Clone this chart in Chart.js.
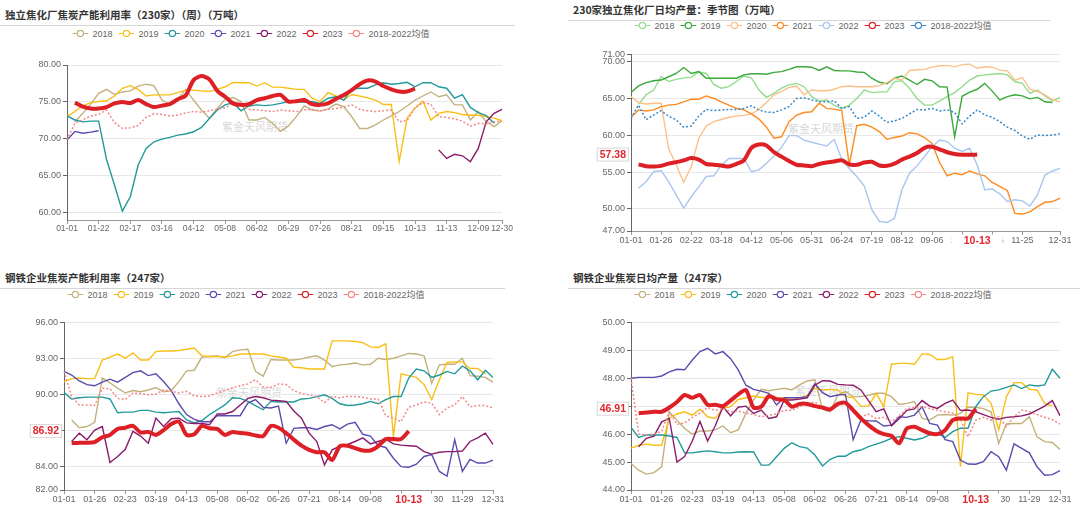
<!DOCTYPE html>
<html>
<head>
<meta charset="utf-8">
<title>焦炭季节图</title>
<script src="https://cdn.jsdelivr.net/npm/chart.js@4.4.1/dist/chart.umd.min.js"></script>
<style>
  body{margin:0;width:1080px;height:509px;overflow:hidden;background:#fff;position:relative;font-family:"Liberation Sans","Noto Sans CJK SC",sans-serif}
  .title{position:absolute;font-family:"Noto Sans CJK SC",sans-serif;font-weight:bold;font-size:10.5px;line-height:14px;color:#333;white-space:nowrap}
  .rule{position:absolute;height:1px;background:#d6d6d6}
  .legend{position:absolute;display:flex;align-items:center;transform:translate(-50%,-50%);font-size:9px;color:#666;white-space:nowrap}
  .legend span{display:flex;align-items:center;margin:0 3px}
  .legend svg{margin-right:4px}
  .wm{position:absolute;transform:translate(-50%,-50%);font-family:"Noto Sans CJK SC",sans-serif;font-size:11px;color:rgba(150,150,150,.4);white-space:nowrap}
  canvas{position:absolute}
</style>
</head>
<body>
<script>
const FONT = '"Liberation Sans", "Noto Sans CJK SC", sans-serif';
const names = ['2018','2019','2020','2021','2022','2023','2018-2022均值'];
const colorsA = ['#c3b17c','#f9bf16','#22999a','#5a4cae','#8b1b6c','#dd1f26','#f38787'];
const colorsB = ['#92dc8e','#3aa83a','#fdc08a','#ff8a1e','#a9c6ee','#dd1f26','#3a88c8'];
const markerDate = '10-13';

// x tick labels (category index -> label)
const tickIdx1 = [0,4,8,12,16,20,24,28,32,36,40,44,48,52,55];
const tickText1 = ['01-01','01-22','02-17','03-16','04-12','05-08','06-02','06-29','07-26','08-21','09-15','10-13','11-13','12-09','12-30'];
const tickIdx2 = [0,4,8,12,16,20,24,28,32,36,40,44,48,52,57];
const tickText2 = ['01-01','01-26','02-22','03-18','04-12','05-06','05-31','06-24','07-19','08-12','09-06','10-01','10-25','11-25','12-31'];
const tickIdx34 = [0,4,8,12,16,20,24,28,32,36,40,44,48,52,56];
const tickText34 = ['01-01','01-26','02-23','03-19','04-13','05-08','06-02','06-26','07-21','08-14','09-08','10-04','10-30','11-29','12-31'];

const yTicks1 = [60,65,70,75,80];
const yTicks2 = [47,50,55,60,65,70,71];
const yTicks3 = [82,84,87,90,93,96];
const yTicks4 = [44,45,46,47,48,49,50];

// panel 1: 独立焦化厂焦炭产能利用率
const p1_2018 = [null,72.3,73.45,74.7,76.15,76.7,76.0,76.35,76.5,77.15,
  77.4,77.2,75.25,74.7,75.35,76.7,75.25,73.9,72.8,74.1,
  75.35,75.6,75.05,72.55,72.55,72.9,72.1,71.0,71.75,73.0,
  74.45,73.9,73.75,74.05,74.7,74.35,73.0,71.4,71.4,71.9,
  72.55,73.1,73.7,74.45,75.25,75.8,76.35,75.7,75.95,74.6,
  74.6,72.55,73.7,72.3,71.65,72.45];
const p1_2019 = [73.0,73.7,74.45,74.9,75.05,75.15,75.8,76.85,77.2,76.7,
  75.8,75.95,75.95,75.95,76.25,76.6,76.6,76.5,76.4,76.7,
  77.05,77.65,77.6,77.6,77.15,77.6,77.0,77.0,76.85,76.7,
  76.7,75.5,75.05,76.25,75.8,75.25,76.0,75.8,75.55,75.25,
  74.65,74.65,66.9,72.8,74.15,75.1,72.55,73.45,73.7,73.55,
  73.3,73.2,73.2,73.0,72.8,72.45];
const p1_2020 = [73.1,72.55,72.3,72.4,72.4,67.2,63.75,60.2,62.15,66.45,
  68.7,69.6,69.95,70.2,70.5,70.65,70.95,71.55,72.75,73.9,
  74.6,74.9,73.8,74.45,74.6,74.5,74.6,74.8,75.05,75.05,
  74.95,75.05,74.8,75.5,75.7,75.25,76.75,76.85,76.85,77.3,
  77.6,77.4,77.5,77.65,77.05,77.6,77.6,77.05,76.85,75.5,
  76.0,74.25,73.55,73.15,72.1,null];
const p1_2021 = [69.85,71.0,70.75,70.9,71.1];
const p1_2022 = [null,null,null,null,null,null,null,null,null,null,
  null,null,null,null,null,null,null,null,null,null,
  null,null,null,null,null,null,null,null,null,null,
  null,null,null,null,null,null,null,null,null,null,
  null,null,null,null,null,null,null,68.5,67.35,67.9,
  67.7,66.9,68.7,72.3,73.45,74.0];
const p1_2023 = [null,74.9,74.35,74.1,74.1,74.3,74.8,75.0,74.85,75.25,
  74.7,74.3,74.5,74.7,75.35,75.85,77.95,78.5,78.05,76.5,
  75.7,74.8,74.6,74.7,75.25,75.5,75.8,75.95,75.05,75.1,
  75.25,74.7,74.6,74.8,75.4,75.95,76.6,77.4,77.9,77.75,
  77.15,76.7,76.4,76.4,76.8];
const p1_avg = [69.85,72.1,72.6,73.1,73.3,73.9,72.2,71.4,71.5,71.8,
  72.9,73.4,73.3,73.1,73.2,73.5,73.7,73.6,73.8,74.0,
  74.2,74.8,74.5,74.0,73.9,73.8,73.7,73.9,73.8,73.7,
  73.9,74.0,73.8,74.0,74.1,74.3,74.6,74.0,73.8,73.7,
  73.8,73.9,72.3,72.5,74.2,74.9,74.7,73.0,72.9,72.7,
  72.4,71.7,72.1,72.0,72.3,72.4];

// panel 2: 230家独立焦化厂日均产量
const p2_2018 = [null,64.2,65.5,66.15,67.95,67.3,67.6,67.8,67.9,68.6,
  68.4,66.9,66.4,66.6,67.3,68.05,67.8,66.15,65.15,65.7,
  66.4,66.85,67.05,66.6,65.25,64.65,64.8,64.1,63.65,64.1,
  65.0,66.15,65.8,65.9,65.9,67.3,67.4,66.4,65.0,64.1,
  64.1,64.65,65.25,65.8,66.6,67.5,68.05,68.2,68.3,68.4,
  68.2,67.3,67.05,65.7,66.15,65.35,64.65,65.15];
const p2_2019 = [65.8,66.7,67.15,67.4,67.5,67.95,68.4,69.2,68.4,68.65,
  67.75,67.75,67.75,67.75,67.75,68.2,68.35,68.35,68.3,68.55,
  68.65,68.95,69.3,69.3,69.25,68.8,69.3,68.8,68.75,68.75,
  68.6,68.55,67.75,67.2,67.0,67.75,68.05,67.5,66.9,67.6,
  67.4,66.6,66.55,59.8,65.3,65.85,66.25,67.05,66.0,64.8,
  65.25,65.5,65.35,64.95,65.15,64.55,64.45,null];
const p2_2020 = [65.25,64.45,64.25,64.35,64.35,58.2,56.0,53.6,55.75,59.6,
  61.25,61.85,62.15,62.45,62.6,62.7,62.9,63.5,64.45,65.5,
  65.95,66.5,66.7,65.5,66.15,66.05,66.05,66.25,66.6,66.7,
  66.6,66.6,66.6,66.75,67.15,67.75,67.5,68.8,68.9,68.95,
  69.25,69.45,69.5,69.3,69.6,69.65,69.1,69.3,69.25,68.85,
  68.75,67.5,67.85,66.25,65.95,65.5,64.8,64.55];
const p2_2021 = [62.45,63.45,63.3,63.45,63.9,64.1,64.2,64.55,64.9,64.9,
  65.35,65.0,64.55,64.1,63.65,63.45,62.9,62.2,61.1,59.6,
  59.8,61.85,62.75,63.1,63.2,64.35,63.65,63.55,63.35,56.0,
  61.3,61.5,61.1,60.5,59.45,59.7,59.9,60.35,60.2,59.7,
  58.9,56.3,54.5,54.85,54.65,55.15,54.75,54.5,53.6,53.05,
  52.5,49.4,49.3,49.6,50.3,50.9,51.0,51.45];
const p2_2022 = [null,52.8,53.7,55.05,55.2,53.7,51.9,50.1,51.65,53.0,
  54.4,54.5,55.95,56.85,56.85,56.85,55.05,55.3,56.2,57.2,
  58.35,59.95,59.95,59.35,59.05,58.8,58.55,59.45,56.75,55.5,
  54.4,53.1,49.9,48.3,48.15,48.7,52.6,54.85,55.85,57.1,
  58.45,59.35,59.15,58.25,57.8,58.25,55.95,52.6,52.7,52.05,
  51.0,51.25,51.1,50.4,51.9,54.6,55.15,55.5];
const p2_2023 = [null,56.05,55.8,55.75,55.85,56.15,56.35,56.6,56.9,56.7,
  56.1,56.0,55.9,55.75,56.1,56.6,58.3,58.75,58.6,57.7,
  57.1,56.5,56.0,55.9,55.8,56.1,56.3,56.45,56.6,56.05,
  56.0,56.3,56.4,55.9,55.85,56.15,56.7,57.1,57.6,58.3,
  58.45,58.1,57.7,57.45,57.35,57.35,57.38];
const p2_avg = [62.3,64.1,62.1,62.75,63.35,62.6,62.1,61.1,61.25,62.6,
  63.5,63.35,63.45,63.5,63.5,63.65,64.0,63.45,63.15,63.1,
  63.45,63.9,65.0,65.1,64.8,64.55,64.55,64.7,63.65,63.9,
  62.3,62.45,63.3,62.6,61.75,61.95,62.3,62.9,63.5,63.45,
  63.65,63.3,63.45,63.1,61.55,62.6,63.45,62.75,62.45,61.85,
  61.1,60.65,59.9,59.45,60.05,59.95,60.05,60.2];

// panel 3: 钢铁企业焦炭产能利用率
const p3_2018 = [null,87.85,87.2,87.3,87.65,91.35,90.95,90.5,90.1,90.3,
  90.2,90.35,90.55,90.2,90.3,91.05,91.95,92.0,93.1,93.15,
  93.2,93.05,93.55,93.7,93.75,91.9,91.5,92.9,92.85,92.85,
  92.85,92.95,93.1,93.2,92.85,92.3,92.45,92.5,92.6,92.45,
  92.5,93.0,92.9,93.0,93.2,93.4,93.35,93.2,90.9,92.45,
  92.5,92.5,93.0,91.55,91.5,91.4,91.0];
const p3_2019 = [91.05,91.3,91.35,91.3,91.3,92.85,93.1,93.35,93.0,93.45,
  92.85,92.85,93.55,93.6,93.6,93.65,93.75,93.85,93.2,93.15,
  93.15,93.1,93.2,93.35,93.35,93.35,93.35,93.2,93.1,93.0,
  92.25,92.2,92.1,92.1,92.1,94.45,94.45,94.45,94.4,94.3,
  93.95,93.9,94.2,86.45,91.7,91.55,91.4,90.8,89.55,91.2,
  92.65,92.7,92.7,92.15,92.15,91.7,null];
const p3_2020 = [90.15,89.6,89.7,89.75,89.75,89.75,89.6,88.45,88.5,88.5,
  88.65,88.65,88.5,88.45,88.5,88.55,87.85,87.6,87.8,88.3,
  88.7,89.1,89.7,89.65,89.4,89.05,88.7,89.4,89.35,89.35,
  89.35,89.6,89.65,89.8,89.95,89.65,89.2,89.05,89.1,89.2,
  89.4,89.2,89.55,89.8,89.8,91.35,92.1,91.95,91.4,91.6,
  91.9,91.7,92.35,91.95,91.2,92.0,91.4];
const p3_2021 = [91.9,91.6,91.1,90.8,90.7,91.0,91.25,91.0,91.4,91.8,
  91.95,91.55,91.7,91.05,90.3,89.2,88.3,87.9,87.7,87.7,
  88.2,88.2,88.2,88.2,89.25,89.55,88.9,88.85,89.0,85.9,
  87.15,87.2,87.2,87.05,87.3,87.45,87.1,87.5,87.65,86.65,
  86.5,85.7,85.55,84.65,83.95,83.9,84.15,84.8,84.95,83.55,
  83.15,86.2,83.55,84.55,84.25,84.25,84.5];
const p3_2022 = [null,86.05,86.75,86.2,87.0,87.3,84.3,84.8,85.4,86.9,
  86.5,85.9,88.0,87.3,87.95,88.0,87.6,87.55,87.55,87.45,
  88.35,88.35,88.55,89.1,89.65,89.8,89.7,89.5,89.45,89.4,
  88.6,88.0,86.75,86.05,84.1,85.35,85.65,85.8,86.05,86.35,
  85.85,86.05,86.25,85.85,85.75,85.7,85.65,85.2,85.0,85.15,
  85.2,85.2,85.25,86.05,86.35,86.75,85.8];
const p3_2023 = [null,85.9,85.95,85.95,86.0,86.4,86.6,87.1,87.2,87.35,
  86.8,86.85,86.6,87.0,87.5,87.7,86.6,86.65,87.35,87.15,
  87.1,86.6,86.85,86.75,86.7,86.55,86.5,87.35,87.2,86.75,
  86.2,85.7,85.35,85.15,85.15,84.5,85.65,85.7,85.5,85.3,
  85.3,85.65,86.25,86.25,86.25,86.92];
const p3_avg = [91.9,89.8,89.1,89.1,89.05,90.5,90.45,89.65,89.55,90.1,
  90.05,89.95,90.0,90.35,90.25,90.1,90.25,89.85,89.8,89.85,
  90.1,90.3,90.55,90.7,90.85,91.2,90.6,90.55,90.85,90.8,
  90.3,90.05,89.95,89.8,89.3,89.8,89.7,89.8,89.8,89.75,
  89.6,89.6,88.2,88.0,87.7,88.9,89.1,89.35,89.25,88.3,
  88.85,89.1,89.8,88.95,89.05,89.05,88.85];

// panel 4: 钢铁企业焦炭日均产量
const p4_2018 = [44.95,44.71,44.57,44.62,44.83,46.8,46.5,46.2,46.0,46.11,
  46.11,46.15,46.29,46.05,46.15,46.74,47.22,47.6,47.55,47.6,
  47.64,47.58,47.76,47.9,47.94,46.89,46.8,47.4,47.52,47.34,
  47.34,47.39,47.46,47.46,47.34,47.06,47.1,47.16,46.56,46.5,
  46.68,46.7,46.68,46.74,46.96,46.96,46.91,46.8,45.67,46.36,
  46.38,46.38,46.62,45.9,45.73,45.7,45.45];
const p4_2019 = [45.5,45.6,45.64,45.6,45.6,46.56,46.72,46.8,46.68,46.89,
  46.62,46.56,46.92,46.98,47.24,47.3,47.36,47.31,47.31,47.28,
  47.28,47.24,47.28,47.4,47.64,47.58,47.6,47.58,47.34,47.31,
  47.0,47.0,47.46,46.98,48.5,48.53,48.53,48.5,48.87,48.85,
  48.67,48.67,48.77,44.83,47.48,47.42,47.4,47.1,46.15,47.34,
  47.84,47.84,47.6,47.58,47.1,47.0,null];
const p4_2020 = [46.24,45.88,45.97,45.97,45.97,45.93,45.88,45.33,45.33,45.37,
  45.4,45.37,45.33,45.33,45.36,45.37,45.36,44.89,44.89,45.19,
  45.49,45.69,45.55,45.5,45.25,44.86,45.1,45.21,45.21,45.37,
  45.43,45.55,45.64,45.73,45.85,45.91,45.85,45.79,45.85,45.97,
  46.03,45.88,46.09,46.21,46.21,46.98,47.34,47.54,47.58,47.67,
  47.76,47.63,47.76,47.72,47.76,48.32,48.0];
const p4_2021 = [48.0,48.03,48.03,48.03,48.08,48.23,48.32,48.3,48.65,48.95,
  49.07,48.87,48.95,48.7,48.3,47.75,47.6,47.54,47.46,47.04,
  47.3,47.3,47.3,47.34,47.8,47.48,47.34,47.4,47.42,45.8,
  46.5,46.48,46.47,46.29,46.32,46.62,46.6,46.68,46.98,46.38,
  46.32,45.8,45.73,45.07,44.93,44.92,45.01,45.37,45.19,44.71,
  45.65,45.49,45.33,44.83,44.53,44.55,44.69];
const p4_2022 = [null,45.55,45.85,45.93,46.44,46.56,45.0,45.2,45.75,46.45,
  45.75,46.3,46.98,46.65,46.96,47.0,46.74,46.86,46.56,46.62,
  47.22,47.22,47.25,47.3,47.75,47.91,47.9,47.78,47.76,47.75,
  47.58,47.2,46.8,46.9,46.3,46.55,46.85,46.9,47.2,47.0,
  46.92,47.1,47.22,46.85,46.86,46.8,46.7,46.6,46.53,46.6,
  46.62,46.65,46.72,46.86,47.0,47.2,46.66];
const p4_2023 = [null,46.75,46.77,46.8,46.8,46.95,47.15,47.4,47.3,47.4,
  47.05,47.05,47.0,47.2,47.42,47.58,46.95,46.98,47.36,47.25,
  47.22,46.98,47.08,47.08,47.0,46.95,46.88,47.08,47.12,46.86,
  46.56,46.32,46.12,46.0,45.94,45.67,46.2,46.26,46.14,46.03,
  46.0,46.14,46.5,46.56,46.56,46.91];
const p4_avg = [48.0,46.0,45.97,46.0,46.1,46.8,46.35,46.4,46.6,46.75,
  46.95,46.85,46.92,46.8,46.82,46.75,46.7,46.62,46.68,46.72,
  46.85,46.85,46.98,47.1,47.15,46.95,46.92,47.02,47.08,46.78,
  46.62,46.72,46.55,46.6,46.45,46.65,46.9,46.96,46.98,46.92,
  46.85,46.8,46.75,46.55,45.9,46.5,46.6,46.5,46.62,46.27,
  46.62,46.86,46.8,46.7,46.6,46.52,46.36];

const panels = [
  {title:'独立焦化厂焦炭产能利用率（230家）（周）（万吨）', titleAt:[5,8], rule:[0,25,515], legendAt:[251,33], wmAt:[255,126],
   box:[0,50,530,195], padTop:15, padRight:28, yW:67, xH:25, yMin:59, yMax:80, yTicks:yTicks1, xFont:8.5,
   n:56, tickIdx:tickIdx1, tickText:tickText1, colors:colorsA, pointer:false,
   series:[p1_2018,p1_2019,p1_2020,p1_2021,p1_2022,p1_2023,p1_avg]},
  {title:'230家独立焦化厂日均产量：季节图（万吨）', titleAt:[573,3], rule:[568,20,482], legendAt:[813,25], wmAt:[821,128],
   box:[540,40,540,215], padTop:14.3, padRight:20, yW:91, xH:24, yMin:47, yMax:71, yTicks:yTicks2, xFont:9,
   n:58, tickIdx:tickIdx2, tickText:tickText2, colors:colorsB, pointer:true,
   series:[p2_2018,p2_2019,p2_2020,p2_2021,p2_2022,p2_2023,p2_avg]},
  {title:'钢铁企业焦炭产能利用率（247家）', titleAt:[5,271], rule:[0,288,505], legendAt:[246,294], wmAt:[249,392],
   box:[0,305,530,204], padTop:17.3, padRight:37, yW:64, xH:19, yMin:82, yMax:96, yTicks:yTicks3, xFont:9,
   n:57, tickIdx:tickIdx34, tickText:tickText34, colors:colorsA, pointer:true,
   series:[p3_2018,p3_2019,p3_2020,p3_2021,p3_2022,p3_2023,p3_avg]},
  {title:'钢铁企业焦炭日均产量（247家）', titleAt:[573,271], rule:[568,288,512], legendAt:[813,294], wmAt:[828,390],
   box:[540,305,540,204], padTop:17.3, padRight:20, yW:91, xH:19, yMin:44, yMax:50, yTicks:yTicks4, xFont:9,
   n:57, tickIdx:tickIdx34, tickText:tickText34, colors:colorsA, pointer:true,
   series:[p4_2018,p4_2019,p4_2020,p4_2021,p4_2022,p4_2023,p4_avg]}
];

// red axis-pointer labels at the latest 2023 point
const pointerLabels = {
  id: 'pointerLabels',
  afterDraw(chart, args, opts) {
    if (!opts || opts.idx == null) return;
    const {ctx, chartArea, scales} = chart;
    ctx.save();
    ctx.font = 'bold 10.5px ' + FONT;
    ctx.textAlign = 'center';
    ctx.textBaseline = 'middle';
    const yp = scales.y.getPixelForValue(opts.value);
    const ty = opts.value.toFixed(2);
    const wy = ctx.measureText(ty).width + 6;
    const x0 = chartArea.left - 2 - wy;
    ctx.fillStyle = '#fff';
    ctx.fillRect(x0, yp - 7, wy, 14);
    ctx.strokeStyle = '#d8d8d8';
    ctx.lineWidth = 1;
    ctx.strokeRect(x0 + .5, yp - 6.5, wy - 1, 13);
    ctx.fillStyle = '#e3262d';
    ctx.fillText(ty, x0 + wy / 2, yp + .5);
    const xp = scales.x.getPixelForValue(opts.idx);
    const wx = ctx.measureText(opts.text).width + 24;
    const yc = chartArea.bottom + 9.5;
    ctx.fillStyle = '#fff';
    ctx.fillRect(xp - wx / 2, yc - 6, wx, 13);
    ctx.fillStyle = '#e3262d';
    ctx.fillText(opts.text, xp, yc + .5);
    ctx.restore();
  }
};

function addDiv(cls, html, css){
  const d = document.createElement('div');
  d.className = cls;
  d.innerHTML = html;
  Object.assign(d.style, css);
  document.body.appendChild(d);
  return d;
}

function swatch(c){
  return `<svg width="16" height="8"><line x1="0" y1="4" x2="16" y2="4" stroke="${c}" stroke-width="1.2"/><circle cx="8" cy="4" r="3.2" fill="#fff" stroke="${c}" stroke-width="1.2"/></svg>`;
}

panels.forEach((p, k) => {
  addDiv('title', p.title, {left:p.titleAt[0]+'px', top:p.titleAt[1]+'px'});
  addDiv('rule', '', {left:p.rule[0]+'px', top:p.rule[1]+'px', width:p.rule[2]+'px'});
  addDiv('legend', names.map((nm,i)=>`<span>${swatch(p.colors[i])}${nm}</span>`).join(''),
    {left:p.legendAt[0]+'px', top:p.legendAt[1]+'px'});
  addDiv('wm', '紫金天风期货', {left:p.wmAt[0]+'px', top:p.wmAt[1]+'px'});

  const cv = document.createElement('canvas');
  cv.width = p.box[2]; cv.height = p.box[3];
  Object.assign(cv.style, {left:p.box[0]+'px', top:p.box[1]+'px', width:p.box[2]+'px', height:p.box[3]+'px'});
  document.body.appendChild(cv);

  const cats = Array.from({length:p.n}, (_, i) => {
    const j = p.tickIdx.indexOf(i);
    return j >= 0 ? p.tickText[j] : '';
  });

  const s23 = p.series[5];
  let last = s23.length - 1;
  while (last > 0 && s23[last] == null) last--;

  const datasets = p.series.map((s, i) => ({
    label: names[i],
    data: s,
    borderColor: p.colors[i],
    backgroundColor: p.colors[i],
    borderWidth: i === 5 ? 4 : (i === 6 ? 1.5 : 1.4),
    borderDash: i === 6 ? [2, 2] : [],
    pointRadius: 0,
    tension: i === 5 ? 0.25 : 0,
    order: i === 5 ? 0 : (i === 6 ? 1 : 10 - i)
  }));

  new Chart(cv, {
    type: 'line',
    data: {labels: cats, datasets},
    options: {
      responsive: false,
      animation: false,
      layout: {padding: {left:0, top:p.padTop, right:p.padRight, bottom:0}},
      plugins: {
        legend: {display:false},
        tooltip: {enabled:false},
        pointerLabels: p.pointer ? {idx:last, value:s23[last], text:markerDate} : false
      },
      scales: {
        x: {
          grid: {drawOnChartArea:false, tickLength:4,
                 tickColor: c => (c.tick && c.tick.label) ? '#999' : 'rgba(0,0,0,0)'},
          border: {color:'#999'},
          ticks: {autoSkip:false, maxRotation:0, minRotation:0, padding:0, color:'#666',
                  font:{size:p.xFont, family:FONT}},
          afterFit: s => { s.height = p.xH; }
        },
        y: {
          min: p.yMin, max: p.yMax,
          afterBuildTicks: s => { s.ticks = p.yTicks.map(v => ({value:v})); },
          grid: {color:'#e8e8e8', tickColor:'#666', tickLength:4},
          border: {color:'#666'},
          ticks: {autoSkip:false, padding:2, color:'#666', font:{size:9, family:FONT},
                  callback: v => Number(v).toFixed(2)},
          afterFit: s => { s.width = p.yW; }
        }
      }
    },
    plugins: [pointerLabels]
  });
});
</script>
</body>
</html>
